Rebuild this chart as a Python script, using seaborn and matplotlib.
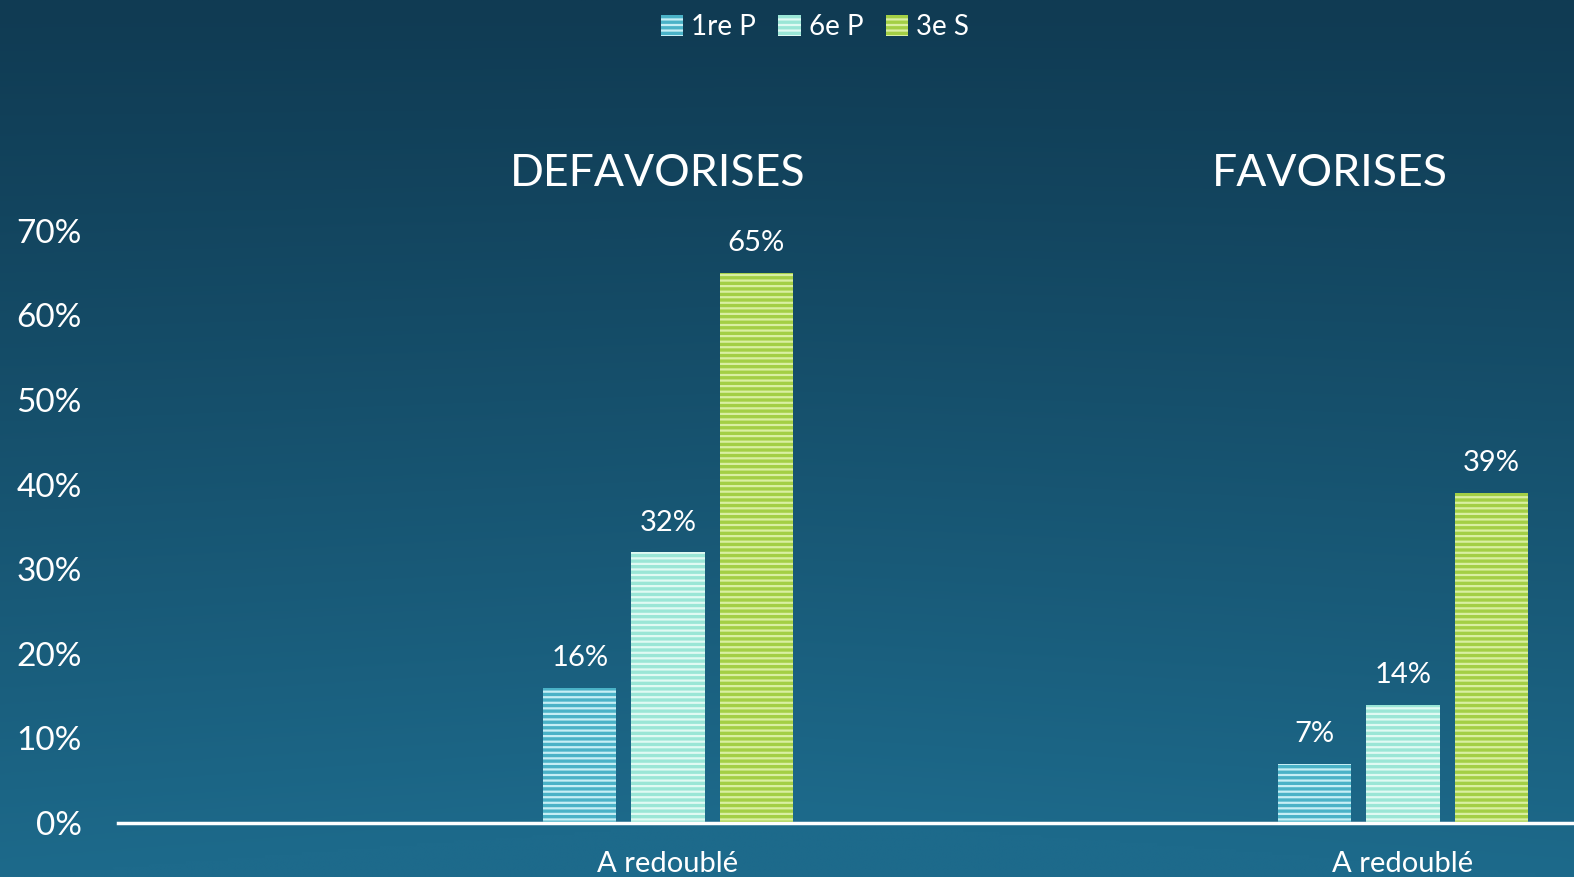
import numpy as np
import pandas as pd
import matplotlib
matplotlib.use('Agg')
import matplotlib.pyplot as plt
from matplotlib.patches import Patch
import seaborn as sns

# data
groupes = ["DEFAVORISES", "FAVORISES"]
categorie = "A redoublé"
niveaux = ["1re P", "6e P", "3e S"]
valeurs = {
    "1re P": [0.16, 0.07],
    "6e P": [0.32, 0.14],
    "3e S": [0.65, 0.39],
}
yticks = [0, 0.1, 0.2, 0.3, 0.4, 0.5, 0.6, 0.7]

couleurs = {"1re P": "#4ab2c7", "6e P": "#9ae6d6", "3e S": "#a3cf45"}
rayures = {"1re P": "#c6eef5", "6e P": "#e0faf3", "3e S": "#d9efa2"}

rows = []
for niv in niveaux:
    for g, v in zip(groupes, valeurs[niv]):
        rows.append({"groupe": g, "niveau": niv, "valeur": v})
df = pd.DataFrame(rows)

sns.set_style("white")
plt.rcParams['font.family'] = ['Lato', 'DejaVu Sans']
plt.rcParams['hatch.linewidth'] = 1.6

fig = plt.figure(figsize=(15.74, 8.77), dpi=100)

# background gradient
bg = fig.add_axes([0, 0, 1, 1], zorder=-10)
yy, xx = np.mgrid[0:1:300j, 0:1:300j]
top = np.array([0x10, 0x3b, 0x53]) / 255
bot = np.array([0x1d, 0x6a, 0x8b]) / 255
t = np.clip(yy ** 1.1 + 0.08 * (1 - np.abs(xx - 0.5) * 2) * yy, 0, 1)
img = top[None, None, :] * (1 - t[..., None]) + bot[None, None, :] * t[..., None]
bg.imshow(img, aspect='auto', extent=[0, 1, 0, 1], origin='upper')
bg.axis('off')

# axes: x from 118 px to right edge, y zero at ~820 px
W, H = 1574, 877
y0 = 823
ax = fig.add_axes([118 / W, (H - y0) / H, (1574 - 118) / W, (y0 - 200) / H])
ax.patch.set_alpha(0)

sns.barplot(data=df, x="groupe", y="valeur", hue="niveau", hue_order=niveaux,
            palette=couleurs, width=0.36, gap=0.17, ax=ax, legend=False,
            linewidth=0, saturation=1)

for container, niv in zip(ax.containers, niveaux):
    for bar in container:
        bar.set_hatch('---')
        bar.set_edgecolor(rayures[niv])
        bar.set_linewidth(0)
    ax.bar_label(container, labels=[f"{v * 100:.0f}%" for v in container.datavalues],
                 padding=12, color='white', fontsize=21)

ppu = 735.0  # px between group centers
c0 = 668.0
ax.set_xlim(-(c0 - 118) / ppu, (1574 - c0) / ppu)
ax.set_ylim(0, (y0 - 200) / 846.0)
ax.set_yticks(yticks)
ax.set_yticklabels([f"{v * 100:.0f}%" for v in yticks], color='white', fontsize=24)
ax.set_xticks([0, 1])
ax.set_xticklabels([categorie, categorie], color='white', fontsize=21)
ax.tick_params(axis='x', length=0, pad=20)
ax.tick_params(axis='y', length=0, pad=26)
ax.set_xlabel("")
ax.set_ylabel("")
for s in ["top", "right", "left"]:
    ax.spines[s].set_visible(False)
ax.spines["bottom"].set_color("white")
ax.spines["bottom"].set_linewidth(2.5)

title_x = [658, 1330]
for g, tx in zip(groupes, title_x):
    fig.text(tx / W, 1 - 174 / H, g, ha='center', va='center', color='white',
             fontsize=32)

handles = [Patch(facecolor=couleurs[n], edgecolor=rayures[n], hatch='---', linewidth=0)
           for n in niveaux]
fig.legend(handles, niveaux, loc='center', bbox_to_anchor=(815 / W, 1 - 27 / H),
           ncol=3, frameon=False, fontsize=20, labelcolor='white',
           handlelength=0.8, handleheight=0.8, handletextpad=0.3, columnspacing=0.8)

fig.savefig("out.png", dpi=100)
